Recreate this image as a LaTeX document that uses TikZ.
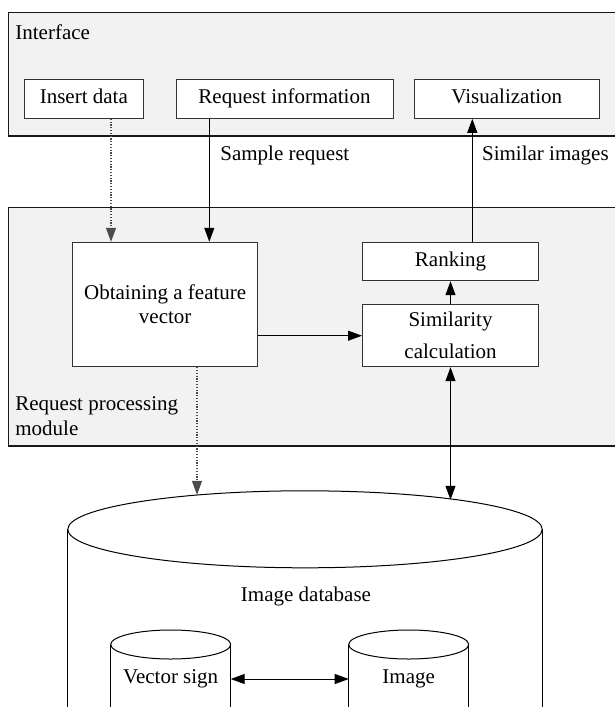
\documentclass[tikz,border=0pt]{standalone}
\usepackage{fontspec}
\setmainfont{Liberation Serif}
\usetikzlibrary{shapes.geometric, arrows.meta}
\usepackage{xcolor}
\definecolor{panel_fill}{HTML}{F2F2F2}
\colorlet{panel_line}{black!90}
\colorlet{box_line}{black!80}
\colorlet{flow_line}{black}
\colorlet{dot_line}{black!70}

\begin{document}
\begin{tikzpicture}[
    x=0.5pt, y=-0.5pt,
    >={Triangle[length=7pt, width=5pt]},
    panel/.style={fill=panel_fill, draw=panel_line, line width=0.6pt},
    panel-label/.style={font=\fontsize{10.5}{12.5}\selectfont, inner sep=0pt, anchor=west, align=left},
    block/.style={draw=box_line, fill=white, line width=0.5pt, font=\fontsize{10.5}{12}\selectfont, align=center, inner sep=0pt},
    one-line/.style={text height=7.3pt, text depth=2.3pt},
    flow/.style={color=flow_line, line width=0.5pt},
    dotflow/.style={color=dot_line, line width=0.6pt, dash pattern=on 0.6pt off 0.8pt},
    flow-label/.style={font=\fontsize{10.5}{12.5}\selectfont, inner sep=0pt, anchor=west},
    db-top/.style={ellipse, draw, line width=0.5pt, fill=white, inner sep=0pt, outer sep=0pt},
    db-side/.style={line width=0.5pt},
    db-label/.style={font=\fontsize{10.5}{12.5}\selectfont, inner sep=0pt},
  ]
  \useasboundingbox (0,0) rectangle (615,707);
  \clip (0,0) rectangle (615,707);

  %%%%%%%%%% Panels %%%%%%%%%%
  \draw[panel] (8.3,12.7) rectangle (640,136);
  \draw[panel] (8.3,207.3) rectangle (640,446);
  \node[panel-label] (ifacelabel) at (15,32) {Interface};
  \node[panel-label] (modlabel) at (15,415.7) {Request processing\\module};

  %%%%%%%%%% Interface blocks %%%%%%%%%%
  \node[block, one-line, minimum width=59.75pt, minimum height=19.5pt] (insert) at (83.8,98.8) {Insert data};
  \node[block, one-line, minimum width=108.5pt, minimum height=19.5pt] (reqinfo) at (284.5,98.8) {Request information};
  \node[block, one-line, minimum width=92.25pt, minimum height=19.5pt] (visual) at (506.8,98.8) {Visualization};

  %%%%%%%%%% Processing blocks %%%%%%%%%%
  \node[block, minimum width=92.25pt, minimum height=62.2pt] (obtain) at (165.2,304.5) {Obtaining a feature\\vector};
  \node[block, one-line, minimum width=88pt, minimum height=19.1pt] (rank) at (450.5,261.6) {Ranking};
  \node[block, minimum width=88pt, minimum height=31pt] (simcalc) at (450.5,335.7) {Similarity\\[4pt]calculation};

  %%%%%%%%%% Database %%%%%%%%%%
  \node[db-top, minimum width=237.2pt, minimum height=38.5pt] (dbtop) at (305,529.3) {};
  \draw[db-side] (dbtop.west) -- ++(0,250);
  \draw[db-side] (dbtop.east) -- ++(0,250);
  \node[db-label] (dblabel) at (306,596) {Image database};

  \foreach \name/\xpos in {vectop/170.7, imgtop/408.7} {
    \node[db-top, minimum width=60pt, minimum height=14.5pt] (\name) at (\xpos,644.5) {};
    \draw[db-side] (\name.west) -- ++(0,100);
    \draw[db-side] (\name.east) -- ++(0,100);
  }
  \node[db-label] (vecsign) at (170.7,679) {Vector sign};
  \node[db-label] (imgtext) at (408.7,679) {Image};

  %%%%%%%%%% Connectors %%%%%%%%%%
  \draw[dotflow, ->] ([xshift=13.6pt]insert.south) -- ([xshift=13.6pt]insert.south |- obtain.north);
  \draw[flow, ->] ([xshift=-37.6pt]reqinfo.south) -- ([xshift=-37.6pt]reqinfo.south |- obtain.north);
  \draw[flow, ->] ([xshift=10.9pt]rank.north) -- ([xshift=10.9pt]rank.north |- visual.south);
  \draw[flow, ->] (simcalc) -- (rank);
  \draw[flow, ->] (simcalc.west -| obtain.east) -- (simcalc.west);
  \draw[dotflow, ->] ([xshift=15.9pt]obtain.south) -- ([xshift=15.9pt]obtain.south |- dbtop.162.4);
  \draw[flow, <->] (simcalc.south) -- (simcalc.south |- dbtop.11.8);
  \draw[flow, <->] (vectop.east |- vecsign) -- (imgtop.west |- vecsign);

  \node[flow-label] (sample) at (220,155) {Sample request};
  \node[flow-label] (similar) at (481.7,155) {Similar images};

\end{tikzpicture}
\end{document}
